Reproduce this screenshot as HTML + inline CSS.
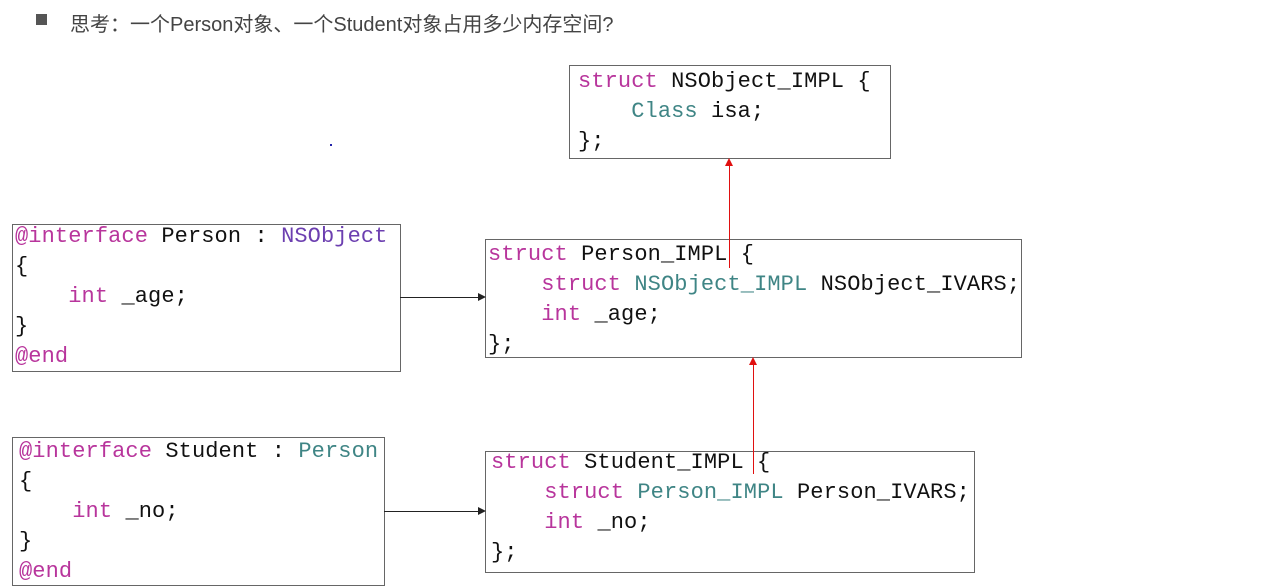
<!DOCTYPE html>
<html><head><meta charset="utf-8"><style>
body{margin:0;width:1280px;height:586px;background:#fff;position:relative;overflow:hidden}
.t{position:absolute;left:70px;top:8px;font:20px "Liberation Sans","Noto Sans CJK SC",sans-serif;color:#444}
.b{position:absolute;left:36px;top:14px;width:11px;height:11px;background:#555}
.box{position:absolute;border:1.5px solid #666;box-sizing:border-box}
pre{position:absolute;margin:0;font:22px/30px "Liberation Mono",monospace;color:#111;letter-spacing:0.1px}
.k{color:#b8359c}.c{color:#3f8585}.p{color:#6c3fb0}
.h{position:absolute;background:#222;height:1px}
.v{position:absolute;background:#e01010;width:1px}
</style></head><body>
<div class="b"></div>
<div class="t">思考：一个Person对象、一个Student对象占用多少内存空间?</div>

<div class="box" style="left:569px;top:65px;width:322px;height:94px"></div>
<pre style="left:578px;top:67px"><span class="k">struct</span> NSObject_IMPL {
    <span class="c">Class</span> isa;
};</pre>

<div class="box" style="left:12px;top:224px;width:389px;height:148px"></div>
<pre style="left:15px;top:222px"><span class="k">@interface</span> Person : <span class="p">NSObject</span>
{
    <span class="k">int</span> _age;
}
<span class="k">@end</span></pre>

<div class="box" style="left:485px;top:239px;width:537px;height:119px"></div>
<pre style="left:488px;top:240px"><span class="k">struct</span> Person_IMPL {
    <span class="k">struct</span> <span class="c">NSObject_IMPL</span> NSObject_IVARS;
    <span class="k">int</span> _age;
};</pre>

<div class="box" style="left:12px;top:437px;width:373px;height:149px"></div>
<pre style="left:19px;top:437px"><span class="k">@interface</span> Student : <span class="c">Person</span>
{
    <span class="k">int</span> _no;
}
<span class="k">@end</span></pre>

<div class="box" style="left:485px;top:451px;width:490px;height:122px"></div>
<pre style="left:491px;top:448px"><span class="k">struct</span> Student_IMPL {
    <span class="k">struct</span> <span class="c">Person_IMPL</span> Person_IVARS;
    <span class="k">int</span> _no;
};</pre>

<div class="h" style="left:400px;top:297px;width:80px"></div>
<div style="position:absolute;left:478px;top:293px;border-left:8px solid #222;border-top:4px solid transparent;border-bottom:4px solid transparent"></div>
<div class="h" style="left:384px;top:511px;width:96px"></div>
<div style="position:absolute;left:478px;top:507px;border-left:8px solid #222;border-top:4px solid transparent;border-bottom:4px solid transparent"></div>

<div class="v" style="left:729px;top:164px;height:104px"></div>
<div style="position:absolute;left:725px;top:158px;border-bottom:8px solid #e01010;border-left:4px solid transparent;border-right:4px solid transparent"></div>
<div class="v" style="left:753px;top:363px;height:111px"></div>
<div style="position:absolute;left:749px;top:357px;border-bottom:8px solid #e01010;border-left:4px solid transparent;border-right:4px solid transparent"></div>
<div style="position:absolute;left:330px;top:144px;width:2px;height:2px;background:#22a"></div>
</body></html>
